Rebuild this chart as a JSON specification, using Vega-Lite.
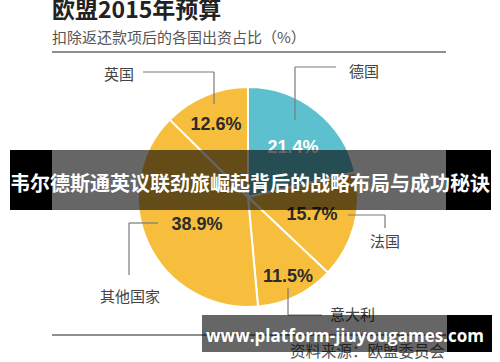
{
  "$schema": "https://vega.github.io/schema/vega-lite/v6.json",
  "width": 500,
  "height": 362,
  "autosize": {"type": "none"},
  "padding": 0,
  "background": "white",
  "config": {"view": {"stroke": null}, "text": {"font": "Noto Sans CJK SC"}},
  "datasets": {
    "pie": [
      {"country": "德国", "share": 21.4, "seq": 1},
      {"country": "法国", "share": 15.7, "seq": 2},
      {"country": "意大利", "share": 11.5, "seq": 3},
      {"country": "其他国家", "share": 38.9, "seq": 4},
      {"country": "英国", "share": 12.6, "seq": 5}
    ],
    "leaders": [
      {"x": 143, "y": 72, "x2": 214, "y2": 72},
      {"x": 214, "y": 72, "x2": 214, "y2": 104},
      {"x": 336, "y": 67, "x2": 295, "y2": 67},
      {"x": 295, "y": 67, "x2": 295, "y2": 120},
      {"x": 348, "y": 215, "x2": 385, "y2": 215},
      {"x": 385, "y": 215, "x2": 385, "y2": 228},
      {"x": 129, "y": 223, "x2": 158, "y2": 223},
      {"x": 129, "y": 223, "x2": 129, "y2": 275},
      {"x": 288, "y": 288, "x2": 288, "y2": 315},
      {"x": 288, "y": 315, "x2": 322, "y2": 315}
    ],
    "frameLines": [
      {"x": 52, "y": 52, "x2": 446, "y2": 52},
      {"x": 52, "y": 335, "x2": 446, "y2": 335}
    ],
    "countryLabels": [
      {"label": "英国", "x": 104, "y": 75},
      {"label": "德国", "x": 349, "y": 72},
      {"label": "法国", "x": 370, "y": 242},
      {"label": "其他国家", "x": 100, "y": 297},
      {"label": "意大利", "x": 330, "y": 315}
    ],
    "pctLabels": [
      {"label": "12.6%", "x": 216, "y": 125},
      {"label": "21.4%", "x": 293, "y": 148},
      {"label": "15.7%", "x": 312, "y": 215},
      {"label": "38.9%", "x": 197, "y": 225},
      {"label": "11.5%", "x": 288, "y": 277}
    ],
    "title": [{"label": "欧盟2015年预算", "x": 52, "y": 18}],
    "subtitle": [{"label": "扣除返还款项后的各国出资占比（%）", "x": 52, "y": 38}],
    "source": [{"label": "资料来源：欧盟委员会", "x": 290, "y": 352}],
    "shade": [
      {"x": 52, "x2": 446, "y": 150, "y2": 210},
      {"x": 202, "x2": 447, "y": 315, "y2": 352}
    ],
    "solid": [
      {"x": 10, "x2": 52, "y": 150, "y2": 210},
      {"x": 446, "x2": 491, "y": 150, "y2": 210},
      {"x": 447, "x2": 492, "y": 315, "y2": 352}
    ],
    "bannerTop": [{"label": "韦尔德斯通英议联劲旅崛起背后的战略布局与成功秘诀", "x": 250, "y": 185}],
    "bannerBottom": [{"label": "www.platform-jiuyougames.com", "x": 345, "y": 337}]
  },
  "layer": [
    {
      "data": {"name": "pie"},
      "mark": {"type": "arc", "outerRadius": 110, "stroke": "white", "strokeWidth": 2},
      "encoding": {
        "theta": {"field": "share", "type": "quantitative", "stack": true},
        "order": {"field": "seq", "type": "quantitative"},
        "color": {
          "field": "country", "type": "nominal", "legend": null,
          "scale": {"domain": ["德国", "法国", "意大利", "其他国家", "英国"], "range": ["#5dc0cf", "#f7be3d", "#f7be3d", "#f7be3d", "#f7be3d"]}
        },
        "x": {"datum": 248, "type": "quantitative", "axis": null, "scale": {"domain": [0, 500], "nice": false, "zero": false}},
        "y": {"datum": 197, "type": "quantitative", "axis": null, "scale": {"domain": [0, 362], "nice": false, "zero": false, "reverse": true}}
      }
    },
    {
      "data": {"name": "leaders"},
      "mark": {"type": "rule", "color": "#7a7a7a", "strokeWidth": 1.2},
      "encoding": {
        "x": {"field": "x", "type": "quantitative", "axis": null},
        "y": {"field": "y", "type": "quantitative", "axis": null},
        "x2": {"field": "x2"},
        "y2": {"field": "y2"}
      }
    },
    {
      "data": {"name": "frameLines"},
      "mark": {"type": "rule", "color": "#6a6a6a", "strokeWidth": 1.5},
      "encoding": {
        "x": {"field": "x", "type": "quantitative", "axis": null},
        "y": {"field": "y", "type": "quantitative", "axis": null},
        "x2": {"field": "x2"},
        "y2": {"field": "y2"}
      }
    },
    {
      "data": {"name": "countryLabels"},
      "mark": {"type": "text", "align": "left", "baseline": "middle", "fontSize": 15, "color": "#444444"},
      "encoding": {
        "x": {"field": "x", "type": "quantitative", "axis": null},
        "y": {"field": "y", "type": "quantitative", "axis": null},
        "text": {"field": "label"}
      }
    },
    {
      "data": {"name": "pctLabels"},
      "mark": {"type": "text", "align": "center", "baseline": "middle", "fontSize": 18, "fontWeight": "bold", "font": "Liberation Sans"},
      "encoding": {
        "x": {"field": "x", "type": "quantitative", "axis": null},
        "y": {"field": "y", "type": "quantitative", "axis": null},
        "text": {"field": "label"},
        "color": {"condition": {"test": "datum.label === '21.4%'", "value": "white"}, "value": "#2b2b2b"}
      }
    },
    {
      "data": {"name": "title"},
      "mark": {"type": "text", "align": "left", "baseline": "alphabetic", "fontSize": 23, "fontWeight": "bold", "color": "#222222"},
      "encoding": {
        "x": {"field": "x", "type": "quantitative", "axis": null},
        "y": {"field": "y", "type": "quantitative", "axis": null},
        "text": {"field": "label"}
      }
    },
    {
      "data": {"name": "subtitle"},
      "mark": {"type": "text", "align": "left", "baseline": "middle", "fontSize": 15, "color": "#555555"},
      "encoding": {
        "x": {"field": "x", "type": "quantitative", "axis": null},
        "y": {"field": "y", "type": "quantitative", "axis": null},
        "text": {"field": "label"}
      }
    },
    {
      "data": {"name": "source"},
      "mark": {"type": "text", "align": "left", "baseline": "middle", "fontSize": 15.5, "color": "#555555"},
      "encoding": {
        "x": {"field": "x", "type": "quantitative", "axis": null},
        "y": {"field": "y", "type": "quantitative", "axis": null},
        "text": {"field": "label"}
      }
    },
    {
      "data": {"name": "shade"},
      "mark": {"type": "rect", "color": "black", "opacity": 0.6},
      "encoding": {
        "x": {"field": "x", "type": "quantitative", "axis": null},
        "x2": {"field": "x2"},
        "y": {"field": "y", "type": "quantitative", "axis": null},
        "y2": {"field": "y2"}
      }
    },
    {
      "data": {"name": "solid"},
      "mark": {"type": "rect", "color": "black", "opacity": 1},
      "encoding": {
        "x": {"field": "x", "type": "quantitative", "axis": null},
        "x2": {"field": "x2"},
        "y": {"field": "y", "type": "quantitative", "axis": null},
        "y2": {"field": "y2"}
      }
    },
    {
      "data": {"name": "bannerTop"},
      "mark": {"type": "text", "align": "center", "baseline": "middle", "fontSize": 20, "fontWeight": "bold", "color": "white"},
      "encoding": {
        "x": {"field": "x", "type": "quantitative", "axis": null},
        "y": {"field": "y", "type": "quantitative", "axis": null},
        "text": {"field": "label"}
      }
    },
    {
      "data": {"name": "bannerBottom"},
      "mark": {"type": "text", "align": "center", "baseline": "middle", "fontSize": 17, "fontWeight": "bold", "color": "white", "font": "Open Sans"},
      "encoding": {
        "x": {"field": "x", "type": "quantitative", "axis": null},
        "y": {"field": "y", "type": "quantitative", "axis": null},
        "text": {"field": "label"}
      }
    }
  ]
}
